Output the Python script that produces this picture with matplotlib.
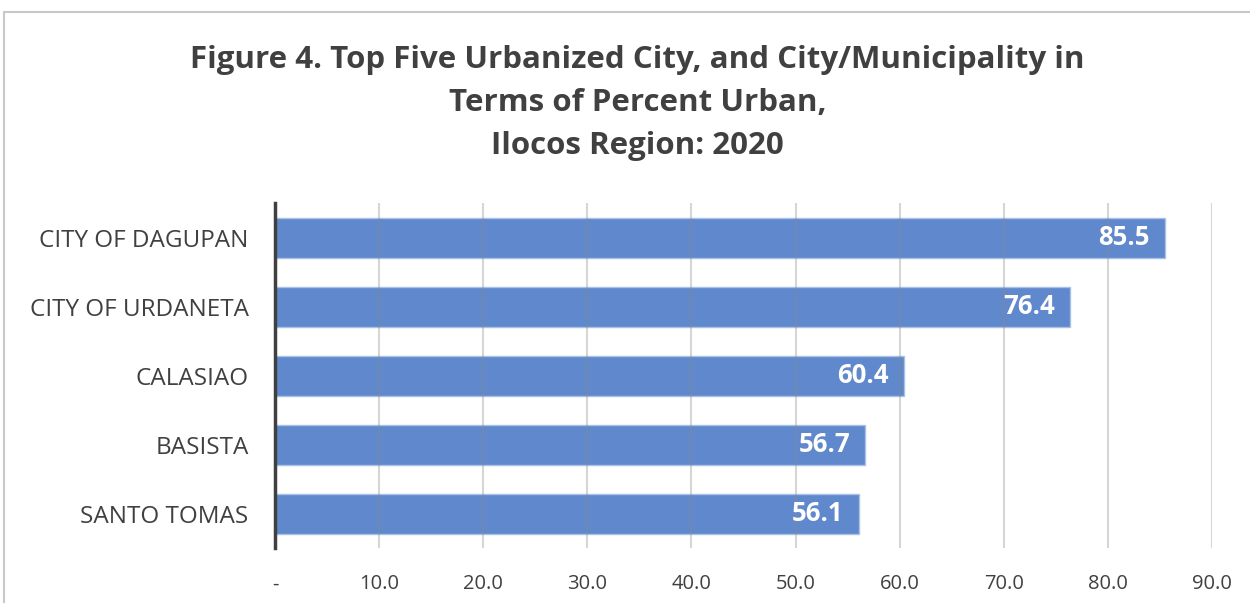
import matplotlib.pyplot as plt
from matplotlib.patches import Rectangle

places = ["CITY OF DAGUPAN", "CITY OF URDANETA", "CALASIAO", "BASISTA", "SANTO TOMAS"]
pct_urban = [85.5, 76.4, 60.4, 56.7, 56.1]
xticks = [0, 10, 20, 30, 40, 50, 60, 70, 80, 90]
xtick_labels = ["-", "10.0", "20.0", "30.0", "40.0", "50.0", "60.0", "70.0", "80.0", "90.0"]

plt.rcParams["font.family"] = ["Open Sans", "DejaVu Sans"]
text_col = "#404040"

fig = plt.figure(figsize=(12.5, 6.03), dpi=100)

# chart border (cropped on right/bottom in the original)
fig.patches.append(Rectangle((4 / 1250, -0.1), 1.2, 1.1 - 12 / 603, transform=fig.transFigure,
                             fill=False, edgecolor="#c8c8c8", linewidth=1.5))

ax = fig.add_axes([0.22, 0.0912, 0.7496, 0.5721])
ypos = range(len(places))
ax.barh(ypos, pct_urban, height=0.58, color="#5b84cc", alpha=0.97,
        edgecolor="#a9c0e8", linewidth=1, zorder=2)
for y, v in zip(ypos, pct_urban):
    ax.annotate(f"{v:.1f}", (v, y), xytext=(-11, 0), textcoords="offset points",
                ha="right", va="center", color="white", fontsize=18.5, fontweight="bold", zorder=4)

ax.set_xlim(0, 90)
ax.set_ylim(4.5, -0.5)
ax.set_yticks(list(ypos))
ax.set_yticklabels(places, fontsize=17.5, color=text_col)
ax.set_xticks(xticks)
ax.set_xticklabels(xtick_labels, fontsize=14.5, color=text_col)
ax.tick_params(axis="both", length=0)
ax.tick_params(axis="x", pad=19)
ax.tick_params(axis="y", pad=19)

ax.grid(axis="x", color="#8a8a8a", alpha=0.35, linewidth=1.5, zorder=3)
ax.set_axisbelow(False)
for s in ["top", "right", "bottom"]:
    ax.spines[s].set_visible(False)
ax.spines["left"].set_color(text_col)
ax.spines["left"].set_linewidth(2.5)
ax.spines["left"].set_zorder(5)

fig.text(0.51, 0.829, "Figure 4. Top Five Urbanized City, and City/Municipality in\nTerms of Percent Urban,\nIlocos Region: 2020",
         ha="center", va="center", fontsize=22.5, fontweight="bold", color=text_col, linespacing=1.57)

fig.savefig("out.png", dpi=100)
